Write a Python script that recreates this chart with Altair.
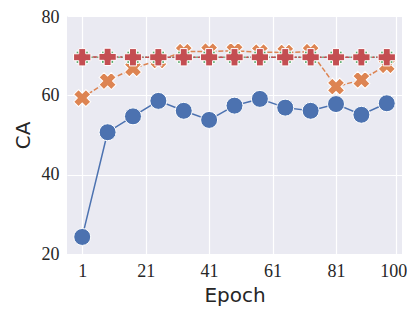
import altair as alt
import pandas as pd

epochs = [1, 9, 17, 25, 33, 41, 49, 57, 65, 73, 81, 89, 97]
blue_vals = [24.3, 50.7, 54.7, 58.6, 56.1, 53.8, 57.4, 59.1, 56.9, 56.1, 57.8, 55.1, 58.0]
orange_vals = [59.3, 63.6, 66.8, 68.8, 71.0, 71.1, 71.2, 70.9, 70.8, 71.0, 62.2, 63.9, 67.6]
green_vals = [69.6, 69.6, 69.6, 69.6, 69.6, 69.6, 69.6, 69.6, 69.6, 69.6, 69.6, 69.6, 69.6]
red_vals = [69.6, 69.7, 69.6, 69.6, 69.6, 69.6, 69.6, 69.6, 69.6, 69.6, 69.6, 69.6, 69.6]

series_names = ["s1", "s2", "s3", "s4"]
x_ticks = [1, 21, 41, 61, 81, 100]
y_ticks = [20, 40, 60, 80]

rows = []
for name, vals in zip(series_names, [blue_vals, orange_vals, green_vals, red_vals]):
    for e, v in zip(epochs, vals):
        rows.append({"series": name, "epoch": e, "ca": v})
df = pd.DataFrame(rows)

styles = {
    "s1": dict(color="#4C72B0", dash=None, shape="circle", size=289, angle=0),
    "s2": dict(color="#DD8452", dash=[5, 2], shape="cross", size=300, angle=45),
    "s3": dict(color="#55A868", dash=[1.5, 1.5], shape="square", size=150, angle=0),
    "s4": dict(color="#C44E52", dash=[4.5, 1.9, 2.2, 1.9], shape="cross", size=300, angle=0),
}

x_enc = alt.X(
    "epoch:Q",
    scale=alt.Scale(domain=[-3.8, 101.8], nice=False, zero=False),
    axis=alt.Axis(
        values=x_ticks, title="Epoch", labelPadding=8, titlePadding=5,
        labelOffset={"condition": {"test": "datum.value === 100", "value": -3}, "value": 0},
    ),
)
y_enc = alt.Y(
    "ca:Q",
    scale=alt.Scale(domain=[20, 80], nice=False, zero=False),
    axis=alt.Axis(
        values=y_ticks, title="CA", labelPadding=8, titlePadding=8,
        labelOffset={"condition": {"test": "datum.value === 80", "value": 1.5}, "value": 0},
    ),
)

layers = []
for name in series_names:
    st = styles[name]
    base = alt.Chart(df).transform_filter(alt.datum.series == name)
    line_kwargs = dict(color=st["color"], strokeWidth=1.5)
    if st["dash"]:
        line_kwargs["strokeDash"] = st["dash"]
    line = base.mark_line(**line_kwargs).encode(x=x_enc, y=y_enc)
    pts = base.mark_point(
        shape=st["shape"], size=st["size"], angle=st["angle"], filled=True,
        fill=st["color"], stroke="white", strokeWidth=1, opacity=1, fillOpacity=1,
    ).encode(x=x_enc, y=y_enc)
    layers += [line, pts]

chart = alt.layer(*layers).properties(
    width=335, height=238,
    padding={"left": 59, "top": 8, "right": 5, "bottom": 56},
    autosize=alt.AutoSizeParams(type="none"),
).configure_view(
    fill="#EAEAF2", strokeWidth=0
).configure_axis(
    grid=True, gridColor="white", gridWidth=1.2, ticks=False, domain=False,
    labelFont="Liberation Serif", labelFontSize=18, labelColor="#262626",
    titleFont="DejaVu Sans", titleFontSize=20, titleFontWeight="normal", titleColor="#262626",
)

chart.save("out.html", embed_options={"renderer": "svg", "actions": False})
